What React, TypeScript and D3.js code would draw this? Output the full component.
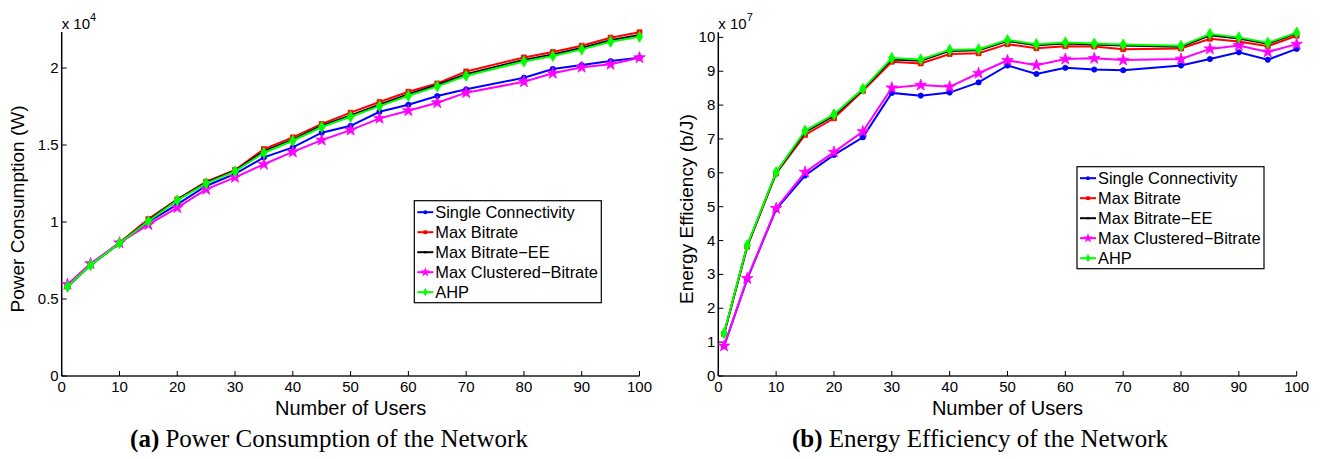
import React from "react";
import * as d3 from "d3";

const users = [1, 5, 10, 15, 20, 25, 30, 35, 40, 45, 50, 55, 60, 65, 70, 80, 85, 90, 95, 100];

const seriesNames = ["Single Connectivity", "Max Bitrate", "Max Bitrate\u2212EE", "Max Clustered\u2212Bitrate", "AHP"];

// Power consumption (W)
const powerSingle = [5800, 7200, 8620, 10000, 11150, 12340, 13120, 14200, 14850, 15800, 16250, 17160, 17620, 18180, 18620, 19370, 19940, 20190, 20450, 20670];
const powerMaxBitrate = [5850, 7250, 8650, 10200, 11470, 12620, 13380, 14740, 15500, 16370, 17100, 17790, 18460, 19000, 19780, 20690, 21040, 21450, 21970, 22320];
const powerMaxBitrateEE = [5820, 7220, 8630, 10100, 11450, 12560, 13330, 14600, 15350, 16250, 16920, 17620, 18300, 18900, 19600, 20530, 20880, 21310, 21800, 22150];
const powerClustered = [5950, 7300, 8650, 9830, 10930, 12120, 12900, 13750, 14550, 15320, 15970, 16730, 17230, 17750, 18400, 19110, 19660, 20050, 20240, 20670];
const powerAHP = [5800, 7200, 8620, 10050, 11400, 12510, 13290, 14500, 15280, 16170, 16840, 17530, 18200, 18810, 19500, 20430, 20780, 21210, 21710, 22030];

// Energy efficiency (b/J)
const eeSingle = [0.88e7, 2.86e7, 4.92e7, 5.92e7, 6.53e7, 7.05e7, 8.36e7, 8.28e7, 8.37e7, 8.67e7, 9.17e7, 8.92e7, 9.10e7, 9.05e7, 9.03e7, 9.17e7, 9.36e7, 9.56e7, 9.34e7, 9.66e7];
const eeMaxBitrate = [1.24e7, 3.82e7, 5.98e7, 7.12e7, 7.61e7, 8.42e7, 9.28e7, 9.23e7, 9.51e7, 9.53e7, 9.80e7, 9.68e7, 9.74e7, 9.73e7, 9.65e7, 9.67e7, 9.96e7, 9.88e7, 9.74e7, 10.05e7];
const eeMaxBitrateEE = [1.25e7, 3.84e7, 6.0e7, 7.2e7, 7.69e7, 8.46e7, 9.35e7, 9.31e7, 9.6e7, 9.62e7, 9.89e7, 9.77e7, 9.82e7, 9.79e7, 9.76e7, 9.72e7, 10.06e7, 9.97e7, 9.81e7, 10.12e7];
const eeClustered = [0.886e7, 2.88e7, 4.95e7, 6.02e7, 6.61e7, 7.22e7, 8.51e7, 8.59e7, 8.54e7, 8.94e7, 9.32e7, 9.18e7, 9.36e7, 9.38e7, 9.33e7, 9.36e7, 9.66e7, 9.76e7, 9.57e7, 9.80e7];
const eeAHP = [1.26e7, 3.86e7, 6.02e7, 7.245e7, 7.725e7, 8.48e7, 9.39e7, 9.35e7, 9.63e7, 9.65e7, 9.92e7, 9.80e7, 9.85e7, 9.82e7, 9.79e7, 9.75e7, 10.10e7, 10.0e7, 9.84e7, 10.14e7];

const xTicks = [0, 10, 20, 30, 40, 50, 60, 70, 80, 90, 100];
const powerTicks = [0, 5000, 10000, 15000, 20000];
const powerTickLabels = ["0", "0.5", "1", "1.5", "2"];
const eeTicks = [0, 1e7, 2e7, 3e7, 4e7, 5e7, 6e7, 7e7, 8e7, 9e7, 10e7];
const eeTickLabels = ["0", "1", "2", "3", "4", "5", "6", "7", "8", "9", "10"];

const colors = ["#0000ff", "#ff0000", "#000000", "#ff00ff", "#00ff00"];
const symbols = [d3.symbolCircle, d3.symbolSquare, d3.symbolCircle, d3.symbolStar, d3.symbolDiamond];
const symSizes = [22, 24, 8, 42, 36];
const legSizes = [12, 14, 5, 30, 20];

const SANS = "'Liberation Sans', Arial, Helvetica, sans-serif";
const SERIF = "'Liberation Serif', 'Times New Roman', serif";

type ChartProps = {
  left: number;
  right: number;
  top: number;
  bottom: number;
  yMax: number;
  yTicks: number[];
  yTickLabels: string[];
  exponent: string;
  yLabel: string;
  yLabelX: number;
  data: number[][];
  legendX: number;
  legendY: number;
};

function Chart(p: ChartProps) {
  const x = d3.scaleLinear().domain([0, 100]).range([p.left, p.right]);
  const y = d3.scaleLinear().domain([0, p.yMax]).range([p.bottom, p.top]);
  const line = d3
    .line<number>()
    .x((_, i) => x(users[i]))
    .y((d) => y(d));
  const legW = 187;
  const legH = 102;
  return (
    <g>
      {/* axes */}
      <line x1={p.left} x2={p.right} y1={p.bottom} y2={p.bottom} stroke="#555" strokeWidth={2} />
      <line x1={p.left} x2={p.left} y1={p.top} y2={p.bottom} stroke="#000" strokeWidth={1.5} />
      {xTicks.map((t) => (
        <g key={"x" + t}>
          <line x1={x(t)} x2={x(t)} y1={p.bottom} y2={p.bottom - 5} stroke="#000" strokeWidth={1} />
          <text x={x(t)} y={p.bottom + 16} textAnchor="middle" fontFamily={SANS} fontSize={15} fill="#000">
            {t}
          </text>
        </g>
      ))}
      {p.yTicks.map((t, i) => (
        <g key={"y" + t}>
          <line x1={p.left} x2={p.left + 5} y1={y(t)} y2={y(t)} stroke="#000" strokeWidth={1} />
          <text x={p.left - 3} y={y(t) + 5} textAnchor="end" fontFamily={SANS} fontSize={15} fill="#000">
            {p.yTickLabels[i]}
          </text>
        </g>
      ))}
      <text x={p.left} y={29} fontFamily={SANS} fontSize={15} fill="#000">
        x 10
        <tspan dy={-8} fontSize={11}>{p.exponent}</tspan>
      </text>
      <text
        transform={`translate(${p.yLabelX},${(p.top + p.bottom) / 2 + 5}) rotate(-90)`}
        textAnchor="middle"
        fontFamily={SANS}
        fontSize={19}
        fill="#000"
      >
        {p.yLabel}
      </text>
      <text x={(p.left + p.right) / 2} y={415} textAnchor="middle" fontFamily={SANS} fontSize={20} fill="#000">
        Number of Users
      </text>
      {/* series */}
      {p.data.map((s, si) => (
        <g key={"s" + si}>
          <path d={line(s) || ""} fill="none" stroke={colors[si]} strokeWidth={2} />
          {s.map((v, i) => (
            <path
              key={i}
              transform={`translate(${x(users[i])},${y(v)})`}
              d={d3.symbol(symbols[si], symSizes[si])() || ""}
              fill={colors[si]}
              stroke={colors[si]}
              strokeWidth={0.8}
            />
          ))}
        </g>
      ))}
      {/* legend */}
      <rect x={p.legendX} y={p.legendY} width={legW} height={legH} fill="#fff" stroke="#000" strokeWidth={1.2} />
      {seriesNames.map((n, i) => {
        const cy = p.legendY + 11.5 + i * 20;
        return (
          <g key={"l" + i}>
            <line x1={p.legendX + 3} x2={p.legendX + 19} y1={cy} y2={cy} stroke={colors[i]} strokeWidth={2} />
            <path
              transform={`translate(${p.legendX + 11},${cy})`}
              d={d3.symbol(symbols[i], legSizes[i])() || ""}
              fill={colors[i]}
            />
            <text x={p.legendX + 21} y={cy + 6} fontFamily={SANS} fontSize={16.4} fill="#000">
              {n}
            </text>
          </g>
        );
      })}
    </g>
  );
}

export default function App() {
  return (
    <svg width={1322} height={459} style={{ position: "absolute", left: 0, top: 0, background: "#fff" }}>
      <rect width={1322} height={459} fill="#fff" />
      <Chart
        left={61.7}
        right={639.5}
        top={32}
        bottom={376}
        yMax={22340}
        yTicks={powerTicks}
        yTickLabels={powerTickLabels}
        exponent="4"
        yLabel="Power Consumption (W)"
        yLabelX={24}
        data={[powerSingle, powerMaxBitrate, powerMaxBitrateEE, powerClustered, powerAHP]}
        legendX={414.3}
        legendY={200.7}
      />
      <Chart
        left={718.3}
        right={1296.7}
        top={32.3}
        bottom={376}
        yMax={10.15e7}
        yTicks={eeTicks}
        yTickLabels={eeTickLabels}
        exponent="7"
        yLabel="Energy Efficiency (b/J)"
        yLabelX={693}
        data={[eeSingle, eeMaxBitrate, eeMaxBitrateEE, eeClustered, eeAHP]}
        legendX={1077}
        legendY={166.7}
      />
      <text x={329} y={447} textAnchor="middle" fontFamily={SERIF} fontSize={25} fill="#000">
        <tspan fontWeight="bold">(a)</tspan> Power Consumption of the Network
      </text>
      <text x={980} y={447} textAnchor="middle" fontFamily={SERIF} fontSize={25} fill="#000">
        <tspan fontWeight="bold">(b)</tspan> Energy Efficiency of the Network
      </text>
    </svg>
  );
}
